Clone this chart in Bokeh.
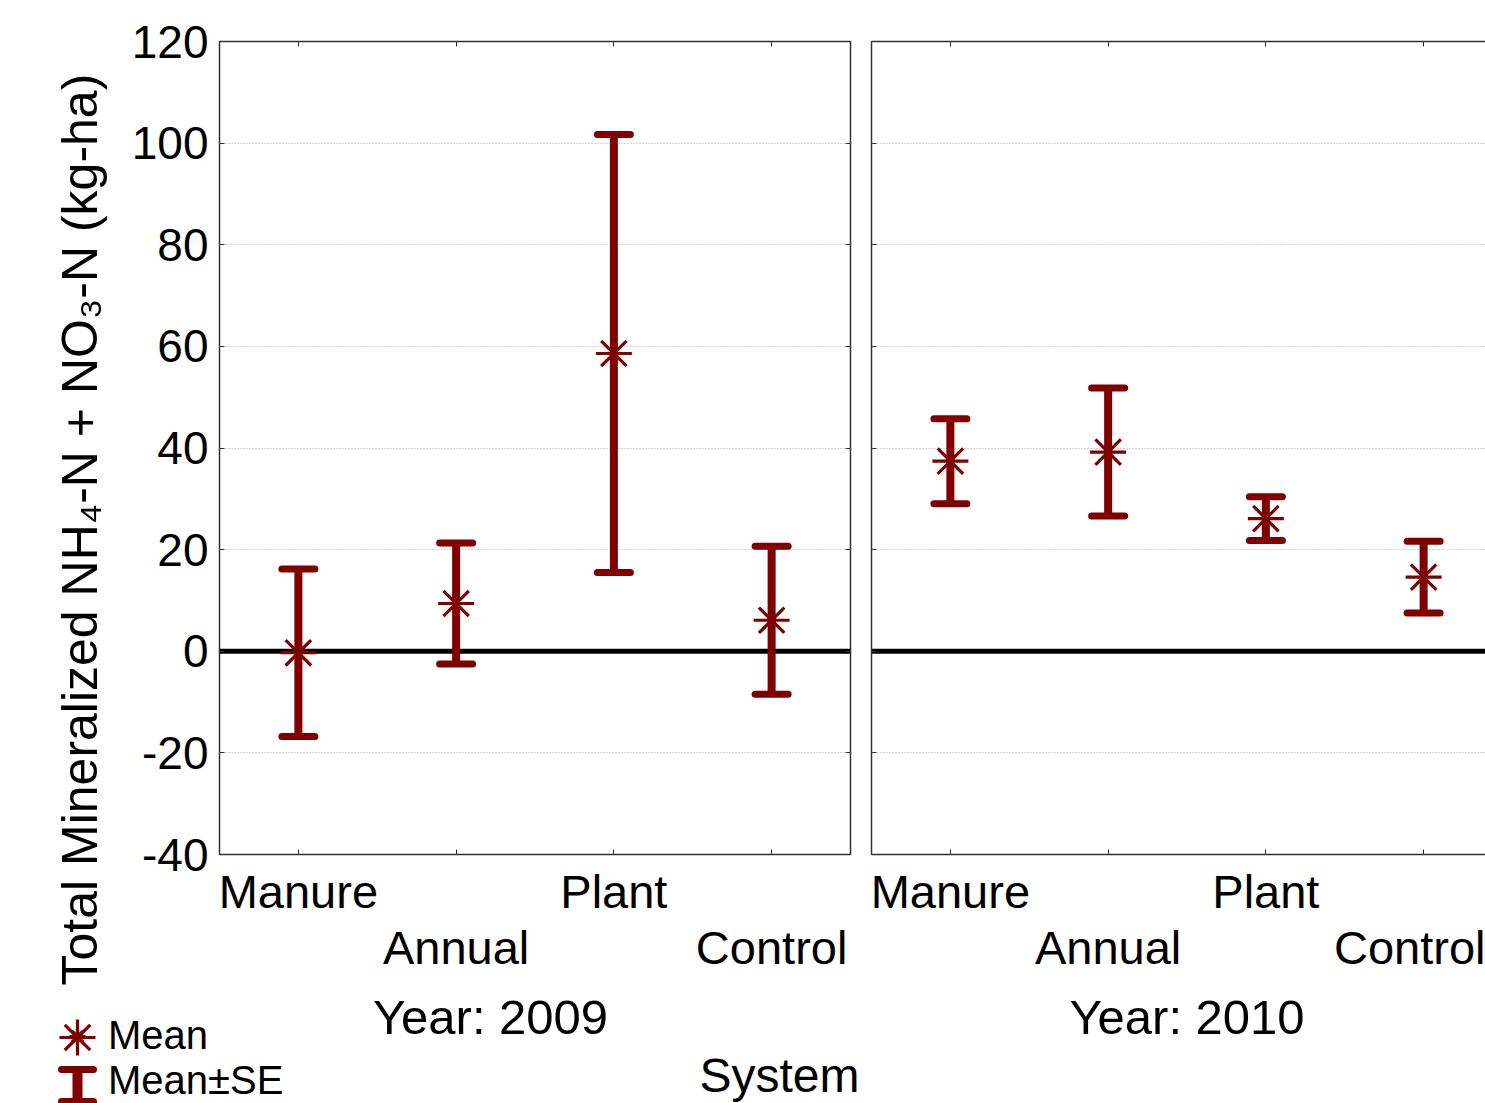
from bokeh.plotting import figure
from bokeh.models import (Range1d, LinearAxis, FixedTicker, CustomJSTickFormatter, Whisker,
                          TeeHead, ColumnDataSource, Span, Label, Legend, LegendItem, Title)
from bokeh.layouts import row, column
from bokeh.embed import file_html
from bokeh.resources import INLINE

# ---------------- data ----------------
categories = ["Manure", "Annual", "Plant", "Control"]
mean_2009 = [-0.3, 9.4, 58.6, 6.1]
se_2009 = [16.5, 11.9, 43.1, 14.55]
mean_2010 = [37.4, 39.2, 26.1, 14.6]
se_2010 = [8.35, 12.6, 4.3, 7.05]
years = ["2009", "2010"]
y_ticks = [-40, -20, 0, 20, 40, 60, 80, 100, 120]
y_title = "Total Mineralized NH\u2084-N + NO\u2083-N (kg-ha)"
x_title = "System"
legend_labels = ["Mean", "Mean\u00b1SE"]

# ---------------- style ----------------
FONT = "Liberation Sans"
RED = "#800000"
FRAME = "#333333"
PX_X = 157.75            # px per category unit
TOP_H = 990              # height of the two panel figures
BOT_H = 1103 - TOP_H     # height of the strip below them
FRAME_TOP, FRAME_BOTTOM = 41, 854

positions = [i + 0.5 for i in range(len(categories))]
blank = CustomJSTickFormatter(code="return ''")
plain = CustomJSTickFormatter(code="return tick.toFixed(0)")


def make_panel(means, ses, first, width, border_left, border_right):
    x_end = (width - border_left - border_right) / PX_X
    p = figure(width=width, height=TOP_H, x_range=Range1d(0, x_end), y_range=Range1d(-40, 120),
               output_backend="svg", toolbar_location=None, x_axis_location=None,
               y_axis_location=None, min_border_left=border_left, min_border_right=border_right,
               min_border_top=FRAME_TOP, min_border_bottom=TOP_H - FRAME_BOTTOM)
    p.background_fill_color = "white"
    p.border_fill_color = "white"
    if first:
        p.outline_line_color = FRAME
        p.outline_line_width = 1.5
    else:
        p.outline_line_color = None

    def style_axis(ax, line=False):
        ax.major_tick_in = 5
        ax.major_tick_out = 0
        ax.minor_tick_line_color = None
        ax.major_tick_line_color = FRAME
        ax.axis_line_color = FRAME if line else None
        ax.axis_line_width = 1.5
        ax.major_label_text_font = FONT
        ax.major_label_text_color = "black"
        return ax

    # left axis
    left = style_axis(LinearAxis(ticker=FixedTicker(ticks=y_ticks)), line=not first)
    if first:
        left.formatter = plain
        left.major_label_text_font_size = "46px"
        left.major_label_standoff = 11
    else:
        left.formatter = blank
        left.major_label_standoff = 0
        left.major_label_text_font_size = "8px"
    p.add_layout(left, "left")

    # right axis (ticks only)
    if first:
        right = style_axis(LinearAxis(ticker=FixedTicker(ticks=y_ticks), formatter=blank))
        right.major_label_standoff = 0
        right.major_label_text_font_size = "8px"
        p.add_layout(right, "right")

    # top axis (ticks only)
    top = style_axis(LinearAxis(ticker=FixedTicker(ticks=positions), formatter=blank), line=not first)
    top.major_label_standoff = 0
    top.major_label_text_font_size = "8px"
    p.add_layout(top, "above")

    # bottom axes: staggered category labels
    b1 = style_axis(LinearAxis(ticker=FixedTicker(ticks=positions)), line=not first)
    b1.major_label_overrides = {positions[i]: (categories[i] if i % 2 == 0 else "")
                                for i in range(len(categories))}
    b1.major_label_text_font_size = "47px"
    b1.major_label_standoff = 10
    p.add_layout(b1, "below")

    b2 = LinearAxis(ticker=FixedTicker(ticks=positions[1::2]))
    b2.major_label_overrides = {positions[i]: categories[i] for i in range(1, len(categories), 2)}
    b2.major_label_text_font = FONT
    b2.major_label_text_color = "black"
    b2.major_label_text_font_size = "47px"
    b2.major_label_standoff = 0
    b2.major_tick_line_color = None
    b2.minor_tick_line_color = None
    b2.axis_line_color = None
    b2.major_tick_in = 0
    b2.major_tick_out = 0
    p.add_layout(b2, "below")

    # grid
    p.ygrid.ticker = FixedTicker(ticks=y_ticks)
    p.ygrid.grid_line_color = "#aaaaaa"
    p.ygrid.grid_line_dash = "1 2"
    p.ygrid.grid_line_width = 1
    p.xgrid.grid_line_color = None

    # zero line
    p.add_layout(Span(location=0, dimension="width", line_color="black", line_width=5,
                      level="underlay"))

    src = ColumnDataSource(dict(
        x=positions,
        mean=means,
        upper=[m + s for m, s in zip(means, ses)],
        lower=[m - s for m, s in zip(means, ses)],
    ))
    head = dict(size=33, line_color=RED, line_width=7, line_cap="round")
    p.add_layout(Whisker(source=src, base="x", upper="upper", lower="lower", dimension="height",
                         line_color=RED, line_width=8,
                         upper_head=TeeHead(**head), lower_head=TeeHead(**head)))
    p.scatter(x="x", y="mean", source=src, marker="asterisk", size=36,
              line_color=RED, line_width=3.2)
    return p


W1 = 860
p1 = make_panel(mean_2009, se_2009, True, W1, 219, 10)
p2 = make_panel(mean_2010, se_2010, False, 1485 - W1, 871 - W1, 0)

# y axis title (vertical, starting 131 px below the frame bottom)
p1.add_layout(Title(text=y_title, align="left", offset=-131, standoff=42,
                    text_font=FONT, text_font_size="50px", text_font_style="normal",
                    text_color="black"), "left")

# ---------------- strip below: year labels, x title, legend ----------------
bot = figure(width=1485, height=BOT_H, x_range=Range1d(0, 1485), y_range=Range1d(1103, TOP_H),
             output_backend="svg", toolbar_location=None, x_axis_location=None,
             y_axis_location=None, min_border=0)
bot.outline_line_color = None
bot.grid.visible = False
bot.background_fill_color = "white"
bot.border_fill_color = "white"

for yr, cx in zip(years, [490, 1186.5]):
    bot.add_layout(Label(x=cx, y=1016, text="Year: " + yr, text_align="center",
                         text_baseline="middle", text_font=FONT, text_font_size="49px",
                         text_color="black"))
bot.add_layout(Label(x=779, y=1075, text=x_title, text_align="center",
                     text_baseline="middle", text_font=FONT, text_font_size="48px",
                     text_color="black"))

# legend: "Mean" asterisk icon and "Mean±SE" error-bar icon
r_mean = bot.scatter(x=[77], y=[1037], marker="asterisk", size=36, line_color=RED,
                     line_width=3.2)
r_se = bot.segment(x0=[0], y0=[0], x1=[0], y1=[0], line_alpha=0, visible=False)

leg_a = Legend(items=[LegendItem(label=legend_labels[0], renderers=[r_mean])],
               location=(57, 1103 - 1058), glyph_width=40, glyph_height=40, label_height=40,
               label_standoff=11, padding=0, margin=0, spacing=0, border_line_color=None,
               background_fill_alpha=0, label_text_font=FONT, label_text_font_size="40px",
               label_text_color="black")
leg_b = Legend(items=[LegendItem(label=legend_labels[1], renderers=[r_se])],
               location=(57, 0), glyph_width=40, glyph_height=40, label_height=40,
               label_standoff=11, padding=0, margin=0, spacing=0, border_line_color=None,
               background_fill_alpha=0, label_text_font=FONT, label_text_font_size="40px",
               label_text_color="black")
bot.add_layout(leg_a, "center")
bot.add_layout(leg_b, "center")

isrc = ColumnDataSource(dict(x=[77], upper=[1069], lower=[1101]))
ihead = dict(size=32, line_color=RED, line_width=7, line_cap="round")
bot.add_layout(Whisker(source=isrc, base="x", upper="upper", lower="lower", dimension="height",
                       line_color=RED, line_width=10, level="overlay",
                       upper_head=TeeHead(**ihead), lower_head=TeeHead(**ihead)))

layout = column(row(p1, p2), bot)
open("out.html", "w").write(file_html(layout, INLINE))
